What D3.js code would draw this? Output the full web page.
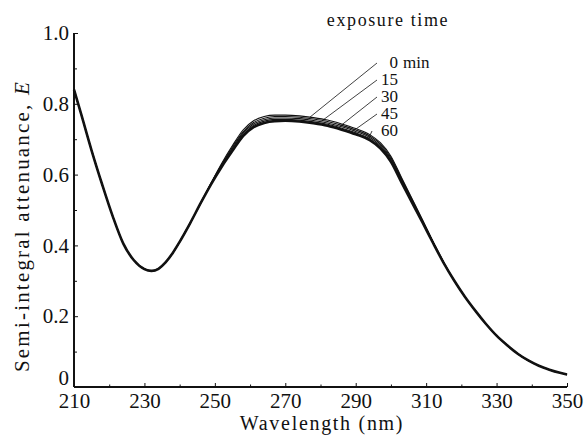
<!DOCTYPE html>
<html>
<head>
<meta charset="utf-8">
<script src="https://cdn.jsdelivr.net/npm/d3@7"></script>
<style>
  body { margin: 0; background: #fff; }
</style>
</head>
<body>
<svg id="chart" width="585" height="436"></svg>
<script>
// wavelength grid (nm)
const wavelength = [210,212,215,218,221,224,227,230,232,234,236,238,240,243,246,249,
  252,255,258,261,264,267,270,274,278,282,286,290,294,297,300,303,306,309,312,315,
  318,321,324,327,330,333,336,339,342,345,348,350];

// semi-integral attenuance E for each exposure time
const e0 = [0.840,0.772,0.668,0.572,0.482,0.405,0.358,0.333,0.328,0.334,0.352,0.378,0.410,0.463,0.520,0.578,
  0.633,0.682,0.726,0.752,0.764,0.768,0.768,0.766,0.761,0.754,0.743,0.730,0.713,0.690,0.652,0.592,0.532,0.472,0.410,0.352,
  0.300,0.255,0.215,0.178,0.145,0.118,0.094,0.075,0.060,0.049,0.040,0.035];
const e15 = [0.840,0.772,0.668,0.572,0.482,0.405,0.358,0.333,0.328,0.334,0.352,0.378,0.410,0.463,0.520,0.577,
  0.630,0.678,0.721,0.747,0.759,0.764,0.764,0.762,0.757,0.750,0.739,0.726,0.709,0.686,0.648,0.589,0.530,0.470,0.409,0.352,
  0.300,0.255,0.215,0.178,0.145,0.118,0.094,0.075,0.060,0.049,0.040,0.035];
const e30 = [0.840,0.772,0.668,0.572,0.482,0.405,0.358,0.333,0.328,0.334,0.352,0.378,0.410,0.463,0.520,0.576,
  0.627,0.674,0.717,0.743,0.755,0.760,0.760,0.758,0.753,0.746,0.735,0.722,0.705,0.682,0.644,0.586,0.527,0.468,0.408,0.351,
  0.300,0.255,0.215,0.178,0.145,0.118,0.094,0.075,0.060,0.049,0.040,0.035];
const e45 = [0.840,0.772,0.668,0.572,0.482,0.405,0.358,0.333,0.328,0.334,0.352,0.378,0.410,0.463,0.520,0.575,
  0.625,0.670,0.713,0.739,0.751,0.756,0.756,0.754,0.749,0.742,0.731,0.718,0.701,0.678,0.640,0.582,0.524,0.466,0.407,0.351,
  0.300,0.255,0.215,0.178,0.145,0.118,0.094,0.075,0.060,0.049,0.040,0.035];
const e60 = [0.840,0.772,0.668,0.572,0.482,0.405,0.358,0.333,0.328,0.334,0.352,0.378,0.410,0.463,0.520,0.574,
  0.623,0.667,0.709,0.734,0.746,0.751,0.752,0.750,0.745,0.738,0.727,0.714,0.697,0.674,0.636,0.578,0.521,0.464,0.406,0.350,
  0.300,0.255,0.215,0.178,0.145,0.118,0.094,0.075,0.060,0.049,0.040,0.035];

const seriesNames = ["0", "15", "30", "45", "60"];
const seriesValues = [e0, e15, e30, e45, e60];
// wavelength where each leader line meets its curve
const leaderAt = [277, 280.5, 285.5, 289, 293.5];

const xTicks = [210, 230, 250, 270, 290, 310, 330, 350];
const yTicks = [0, 0.2, 0.4, 0.6, 0.8, 1.0];
const yTickLabels = ["0", "0.2", "0.4", "0.6", "0.8", "1.0"];

const serif = '"Liberation Serif"';
const ink = "#111";
const svg = d3.select("#chart");
const margin = { top: 33, right: 18, bottom: 49, left: 74 };
const width = 585, height = 436;

const x = d3.scaleLinear().domain([210, 350]).range([margin.left, width - margin.right]);
const y = d3.scaleLinear().domain([0, 1]).range([height - margin.bottom, margin.top]);

// axes
const xAxis = svg.append("g")
  .attr("transform", `translate(0,${y(0)})`)
  .call(d3.axisBottom(x).tickValues(xTicks).tickSize(-4).tickPadding(6).tickFormat(d3.format("d")));
xAxis.append("g")
  .call(d3.axisBottom(x).tickValues(d3.range(220, 350, 20)).tickSize(-2.5).tickFormat(""));

const yAxis = svg.append("g")
  .attr("transform", `translate(${x(210)},0)`)
  .call(d3.axisLeft(y).tickValues(yTicks).tickSize(-4).tickPadding(5).tickFormat((d, i) => yTickLabels[i]));
yAxis.append("g")
  .call(d3.axisLeft(y).tickValues([0.1, 0.3, 0.5, 0.7, 0.9]).tickSize(-3).tickFormat(""));

svg.selectAll(".domain").attr("stroke", ink).attr("stroke-width", 1.8);
svg.selectAll(".tick line").attr("stroke", ink).attr("stroke-width", 1);
svg.selectAll(".tick text").attr("font-size", 21).style("font-family", serif).attr("fill", ink);
xAxis.selectAll(".domain").attr("d", `M${x(210)},0H${x(350)}`);
yAxis.selectAll(".domain").attr("d", `M0,${y(0)}V${y(1)}`);
// "0" sits on the axis line
yAxis.selectAll(".tick text").filter(d => d === 0).attr("dy", "-0.1em");

// curves
const line = d3.line()
  .x((d, i) => x(wavelength[i]))
  .y(d => y(d))
  .curve(d3.curveMonotoneX);

svg.append("g")
  .selectAll("path")
  .data(seriesValues)
  .join("path")
  .attr("d", d => line(d))
  .attr("fill", "none")
  .attr("stroke", ink)
  .attr("stroke-width", (d, i) => i === 4 ? 2.6 : 1.1);

// leader labels
const labelX = 398;
const labelY = [62, 79, 96, 113, 130];
const lineStartX = [377, 377, 377, 377, 372];
const interp = (vals, w) => {
  const j = d3.bisectRight(wavelength, w) - 1;
  const t = (w - wavelength[j]) / (wavelength[j + 1] - wavelength[j]);
  return vals[j] + t * (vals[j + 1] - vals[j]);
};

const labels = svg.append("g");
seriesNames.forEach((name, i) => {
  labels.append("line")
    .attr("x1", lineStartX[i]).attr("y1", labelY[i] + 1)
    .attr("x2", x(leaderAt[i])).attr("y2", y(interp(seriesValues[i], leaderAt[i])))
    .attr("stroke", ink).attr("stroke-width", 0.8);
  labels.append("text")
    .attr("x", labelX).attr("y", labelY[i]).attr("dy", "0.35em")
    .attr("text-anchor", "end").attr("font-size", 17)
    .style("font-family", serif).attr("fill", ink)
    .text(name);
});
labels.append("text")
  .attr("x", labelX + 5).attr("y", labelY[0]).attr("dy", "0.35em")
  .attr("font-size", 17).style("font-family", serif).attr("fill", ink)
  .text("min");

svg.append("text")
  .attr("x", 388).attr("y", 26)
  .attr("text-anchor", "middle").attr("font-size", 18).attr("letter-spacing", 1.6)
  .style("font-family", serif).attr("fill", ink)
  .text("exposure time");

// axis titles
svg.append("text")
  .attr("x", 322).attr("y", 430)
  .attr("text-anchor", "middle").attr("font-size", 20).attr("letter-spacing", 1.7)
  .style("font-family", serif).attr("fill", ink)
  .text("Wavelength (nm)");

const yTitle = svg.append("text")
  .attr("transform", "translate(29,226) rotate(-90)")
  .attr("text-anchor", "middle").attr("font-size", 21).attr("letter-spacing", 2.2)
  .style("font-family", serif).attr("fill", ink);
yTitle.append("tspan").text("Semi-integral attenuance, ");
yTitle.append("tspan").attr("font-style", "italic").text("E");
</script>
</body>
</html>
